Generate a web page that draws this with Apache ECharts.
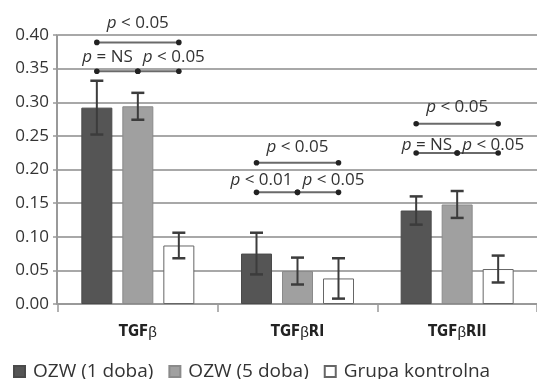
<!DOCTYPE html>
<html><head><meta charset="utf-8">
<script src="https://cdn.jsdelivr.net/npm/echarts@6/dist/echarts.min.js"></script>
<style>html,body{margin:0;padding:0;background:#fff}#c{width:537px;height:379px}</style>
</head><body><div id="c"></div>
<script>
const categories = ['TGFβ', 'TGFβRI', 'TGFβRII'];
const seriesNames = ['OZW (1 doba)', 'OZW (5 doba)', 'Grupa kontrolna'];
const ozw1 = [0.292, 0.075, 0.139];
const ozw5 = [0.294, 0.049, 0.148];
const kontrol = [0.087, 0.038, 0.052];
const ozw1Err = [0.040, 0.031, 0.021];
const ozw5Err = [0.020, 0.020, 0.020];
const kontrolErr = [0.019, 0.030, 0.020];
const yTicks = [0, 0.05, 0.10, 0.15, 0.20, 0.25, 0.30, 0.35, 0.40];
// significance brackets: category, from bar, to bar, height, text, label alignment
const brCat = [0, 0, 0, 1, 1, 1, 2, 2, 2];
const brFrom = [0, 0, 1, 0, 0, 1, 0, 0, 1];
const brTo = [2, 1, 2, 2, 1, 2, 2, 1, 2];
const brY = [0.389, 0.346, 0.346, 0.210, 0.166, 0.166, 0.268, 0.2245, 0.2245];
const brText = ['< 0.05', '= NS', '< 0.05', '< 0.05', '< 0.01', '< 0.05', '< 0.05', '= NS', '< 0.05'];
const brAlign = ['center', 'right', 'left', 'center', 'right', 'left', 'center', 'right', 'left'];
const brLabelRise = [19, 14, 14, 16, 12, 12, 17, 8, 8];

const BAR_W = 31, BAR_GAP = 10;
const FONT = "'Open Sans', 'Noto Sans', sans-serif";
const colors = ['#555555', '#a0a0a0', '#ffffff'];
const borders = ['#4a4a4a', '#8a8a8a', '#666666'];
const vals = [ozw1, ozw5, kontrol];
const errs = [ozw1Err, ozw5Err, kontrolErr];

const chart = echarts.init(document.getElementById('c'), null, {renderer: 'canvas'});

const barSeries = vals.map((v, i) => ({
  name: seriesNames[i], type: 'bar', data: v, barWidth: BAR_W,
  barGap: (BAR_GAP / BAR_W * 100) + '%',
  itemStyle: {color: colors[i], borderColor: borders[i], borderWidth: 1},
  z: 2
}));

const errData = [];
errs.forEach((e, s) => e.forEach((ev, c) => errData.push([c, vals[s][c], ev, s])));

const errSeries = {
  type: 'custom', data: errData, z: 5, silent: true,
  renderItem: function (params, api) {
    const c = api.value(0), v = api.value(1), e = api.value(2), s = api.value(3);
    const p = api.coord([c, v]);
    const x = p[0] + (s - 1) * (BAR_W + BAR_GAP);
    const yt = api.coord([c, v + e])[1], yb = api.coord([c, v - e])[1];
    const st = {stroke: '#3c3c3c', lineWidth: 2};
    return {type: 'group', children: [
      {type: 'line', shape: {x1: x, y1: yt, x2: x, y2: yb}, style: st},
      {type: 'line', shape: {x1: x - 6.5, y1: yt, x2: x + 6.5, y2: yt}, style: {stroke: '#3c3c3c', lineWidth: 2.5}},
      {type: 'line', shape: {x1: x - 6.5, y1: yb, x2: x + 6.5, y2: yb}, style: {stroke: '#3c3c3c', lineWidth: 2.5}}
    ]};
  }
};

const brData = brCat.map((c, i) => [c, brY[i], brFrom[i], brTo[i], i]);
const brSeries = {
  type: 'custom', data: brData, z: 6, silent: true, clip: false,
  renderItem: function (params, api) {
    const c = api.value(0), y = api.value(1), f = api.value(2), t = api.value(3), idx = api.value(4);
    const p = api.coord([c, y]);
    const x1 = p[0] + (f - 1) * (BAR_W + BAR_GAP);
    const x2 = p[0] + (t - 1) * (BAR_W + BAR_GAP);
    const al = brAlign[idx];
    let tx, ta;
    if (al === 'center') { tx = (x1 + x2) / 2; ta = 'center'; }
    else if (al === 'right') { tx = x2 - 5; ta = 'right'; }
    else { tx = x1 + 5; ta = 'left'; }
    return {type: 'group', children: [
      {type: 'line', shape: {x1: x1, y1: p[1], x2: x2, y2: p[1]}, style: {stroke: '#6a6a6a', lineWidth: 2}},
      {type: 'circle', shape: {cx: x1, cy: p[1], r: 2.8}, style: {fill: '#222'}},
      {type: 'circle', shape: {cx: x2, cy: p[1], r: 2.8}, style: {fill: '#222'}},
      {type: 'text', z2: 10, style: {
        text: '{i|p} ' + brText[idx], x: tx, y: p[1] - brLabelRise[idx], align: ta, verticalAlign: 'middle',
        font: '17px ' + FONT, fill: '#333',
        rich: {i: {fontStyle: 'italic', fontSize: 17, fontFamily: FONT, fill: '#333', color: '#333'}}
      }}
    ]};
  }
};

chart.setOption({
  animation: false,
  backgroundColor: '#fff',
  grid: {left: 58, right: -2, top: 35, bottom: 75, containLabel: false},
  legend: {
    left: 8, top: 357, itemWidth: 11, itemHeight: 11, itemGap: 15, icon: 'rect',
    data: seriesNames,
    textStyle: {fontFamily: FONT, fontSize: 19, color: '#333', padding: [0, 0, 0, 3]}
  },
  xAxis: {
    type: 'category', data: categories,
    axisLine: {show: true, lineStyle: {color: '#999', width: 2}},
    axisTick: {show: true, length: 8, lineStyle: {color: '#999', width: 1.5}},
    axisLabel: {
      margin: 21,
      formatter: function (v) { const k = v.split('β'); return '{b|' + k[0] + '}{g|β}' + (k[1] ? '{b|' + k[1] + '}' : ''); },
      rich: {
        b: {fontFamily: "'Liberation Sans Narrow', 'DejaVu Sans Condensed', sans-serif", fontWeight: 'bold', fontSize: 15, color: '#222'},
        g: {fontFamily: "'Liberation Sans Narrow', sans-serif", fontSize: 15, color: '#222'}
      }
    }
  },
  yAxis: {
    type: 'value', min: 0, max: 0.4, interval: 0.05, offset: 1,
    axisLine: {show: true, lineStyle: {color: '#999', width: 2}},
    axisTick: {show: true, length: 4, lineStyle: {color: '#999', width: 1.5}},
    axisLabel: {margin: 8, fontFamily: FONT, fontSize: 17, color: '#333',
      formatter: v => yTicks.find(t => Math.abs(t - v) < 1e-9).toFixed(2)},
    splitLine: {show: true, lineStyle: {color: '#a8a8a8', width: 2}}
  },
  series: [...barSeries, errSeries, brSeries]
});
</script></body></html>
